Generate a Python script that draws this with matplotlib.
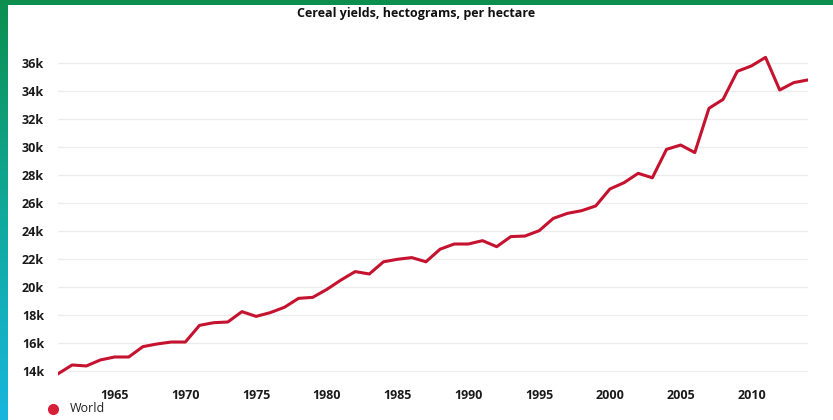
import matplotlib
matplotlib.use("Agg")
import matplotlib.pyplot as plt
import numpy as np
from matplotlib.patches import Rectangle
from matplotlib.ticker import FuncFormatter
from matplotlib.colors import LinearSegmentedColormap

plt.rcParams['font.family'] = ['Open Sans', 'DejaVu Sans']

# World cereal yield, hg/ha
years = list(range(1961, 2015))
yields = [
    13800, 14430, 14360, 14790, 15000, 15000, 15740, 15930, 16070, 16070,
    17260, 17450, 17500, 18240, 17900, 18170, 18550, 19190, 19260, 19830,
    20500, 21100, 20930, 21800, 21980, 22100, 21800, 22700, 23070, 23070,
    23310, 22880, 23600, 23640, 24020, 24900, 25260, 25450, 25790, 27000,
    27450, 28120, 27800, 29830, 30140, 29600, 32760, 33400, 35400, 35790,
    36400, 34070, 34600, 34790,
]
y_ticks = [14000, 16000, 18000, 20000, 22000, 24000, 26000, 28000, 30000,
           32000, 34000, 36000]
x_ticks = [1965, 1970, 1975, 1980, 1985, 1990, 1995, 2000, 2005, 2010]

W, H = 833, 420
fig = plt.figure(figsize=(W / 100, H / 100), dpi=100)
fig.patch.set_facecolor('white')

# screenshot frame: green bar on top, green-to-cyan strip on the left
fig.patches.append(Rectangle((0, 1 - 5 / H), 1, 5 / H, transform=fig.transFigure,
                             facecolor='#0c8f4e', edgecolor='none', zorder=5))
strip = fig.add_axes([0, 0, 8 / W, 1])
grad = np.linspace(0, 1, 256).reshape(-1, 1)
cmap = LinearSegmentedColormap.from_list('frame', ['#0c8f4e', '#10a99a', '#18b6de'])
strip.imshow(grad, aspect='auto', cmap=cmap, extent=[0, 1, 0, 1], origin='upper')
strip.axis('off')

ax = fig.add_axes([58 / W, 1 - 378 / H, (808 - 58) / W, (378 - 55) / H])
ax.plot(years, yields, color='#c4122f', linewidth=2.2, solid_joinstyle='round',
        zorder=3)

ax.set_xlim(1961, 2014)
ax.set_ylim(13500, 36570)
ax.set_yticks(y_ticks)
ax.set_xticks(x_ticks)
ax.yaxis.set_major_formatter(FuncFormatter(lambda v, p: f"{int(v / 1000)}k"))
ax.tick_params(axis='both', length=0, labelsize=9, labelcolor='#1a1a1a')
ax.tick_params(axis='y', pad=10)
ax.tick_params(axis='x', pad=8)
for lab in ax.get_yticklabels() + ax.get_xticklabels():
    lab.set_fontweight('bold')
ax.grid(axis='y', color='#ececec', linewidth=1)
ax.grid(axis='x', visible=False)
for s in ax.spines.values():
    s.set_visible(False)

fig.text(0.5, 1 - 14 / H, 'Cereal yields, hectograms, per hectare', ha='center',
         va='center', fontsize=9, fontweight='bold', color='#111111')

# legend
fig.add_artist(plt.Line2D([53 / W], [1 - 409 / H], marker='o', markersize=7,
                          color='#d6203a', linestyle='none'))
fig.text(70 / W, 1 - 409 / H, 'World', ha='left', va='center', fontsize=9,
         color='#222222')

fig.savefig('out.png', dpi=100)
